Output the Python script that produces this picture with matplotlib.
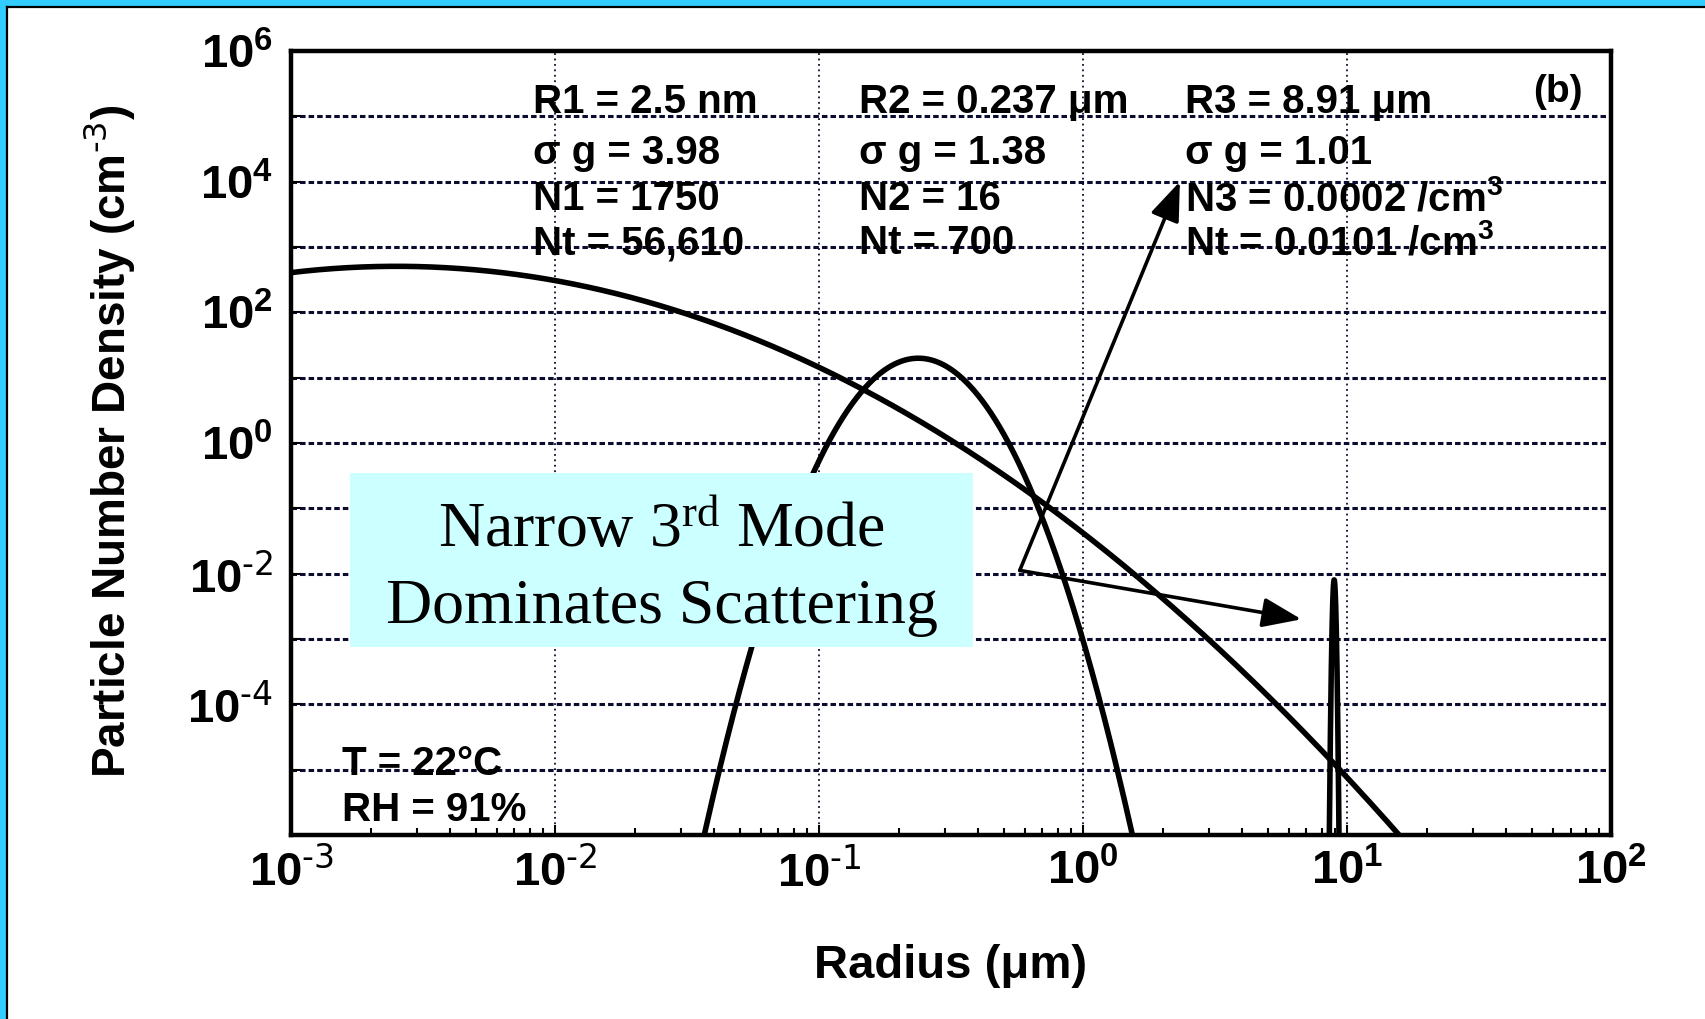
import numpy as np
import matplotlib
matplotlib.use("Agg")
import matplotlib.pyplot as plt
from matplotlib.patches import Rectangle
from matplotlib.lines import Line2D

plt.rcParams['font.family'] = ['Liberation Sans', 'DejaVu Sans']
plt.rcParams['mathtext.default'] = 'regular'

# Lognormal mode parameters (radius in um, geometric std dev, number in cm^-3)
mode_names = ["R1", "R2", "R3"]
mode_radius = [0.0025, 0.237, 8.91]
mode_sigma = [3.98, 1.38, 1.01]
mode_number = [1750, 16, 0.0002]

# Annotation text blocks for each mode
mode_text = [
    ["R1 = 2.5 nm", "\u03c3 g = 3.98", "N1 = 1750", "Nt = 56,610"],
    ["R2 = 0.237 \u03bcm", "\u03c3 g = 1.38", "N2 = 16", "Nt = 700"],
    ["R3 = 8.91 \u03bcm", "\u03c3 g = 1.01", r"N3 = 0.0002 /cm$^{3}$", r"Nt = 0.0101 /cm$^{3}$"],
]

x_ticks = [1e-3, 1e-2, 1e-1, 1e0, 1e1, 1e2]
x_tick_labels = [r"$10^{\text{-3}}$", r"$10^{\text{-2}}$", r"$10^{\text{-1}}$",
                 r"$10^{0}$", r"$10^{1}$", r"$10^{2}$"]
y_ticks = [1e-4, 1e-2, 1e0, 1e2, 1e4, 1e6]
y_tick_labels = [r"$10^{\text{-4}}$", r"$10^{\text{-2}}$", r"$10^{0}$",
                 r"$10^{2}$", r"$10^{4}$", r"$10^{6}$"]
y_minor = [1e-5, 1e-3, 1e-1, 1e1, 1e3, 1e5]

# Arrow from the callout to the narrow third mode
arrow_origin = (0.574, 0.0112)
arrow_targets = [(2.32, 1.0e4), (6.70, 0.0020)]

fig = plt.figure(figsize=(17.05, 10.19), dpi=100)
fig.patch.set_facecolor("white")

# Slide frame: cyan band with a thin dark edge along the top and left
cyan = "#33CCFF"
fig.patches.append(Rectangle((0, 1 - 6 / 1019), 1, 6 / 1019, transform=fig.transFigure,
                             facecolor=cyan, edgecolor="none", zorder=0))
fig.patches.append(Rectangle((0, 0), 6 / 1705, 1, transform=fig.transFigure,
                             facecolor=cyan, edgecolor="none", zorder=0))
fig.lines.append(Line2D([7 / 1705, 1], [1 - 6.5 / 1019, 1 - 6.5 / 1019], transform=fig.transFigure,
                        color="black", lw=1.6))
fig.lines.append(Line2D([7 / 1705, 7 / 1705], [0, 1 - 6.5 / 1019], transform=fig.transFigure,
                        color="black", lw=1.6))

ax = fig.add_axes([0.1709, 0.1806, 0.7742, 0.7694])
ax.set_xscale("log")
ax.set_yscale("log")
ax.set_xlim(1e-3, 1e2)
ax.set_ylim(1e-6, 1e6)

# Grid: dashed horizontal at each decade, dotted vertical at each decade
grid_col = "#0c0c30"
for e in range(-5, 6):
    ax.axhline(10.0 ** e, color=grid_col, lw=2.2, ls=(0, (1.8, 1.0)), zorder=1)
for e in range(-2, 2):
    ax.axvline(10.0 ** e, color=grid_col, lw=1.3, ls=(0, (1.0, 2.0)), zorder=1)

# Size distribution curves dN/dlnr for each lognormal mode
r = np.unique(np.concatenate([np.logspace(-3, 2, 6000), np.logspace(np.log10(8.0), np.log10(10.0), 4000)]))
for R, s, N in zip(mode_radius, mode_sigma, mode_number):
    ls_ = np.log(s)
    dn = N / (np.sqrt(2 * np.pi) * ls_) * np.exp(-(np.log(r / R)) ** 2 / (2 * ls_ ** 2))
    dn = np.where(dn > 1e-8, dn, np.nan)
    ax.plot(r, dn, color="black", lw=4.0, zorder=3, solid_capstyle="butt")

for sp in ax.spines.values():
    sp.set_linewidth(3.2)
    sp.set_zorder(4)

ax.set_xticks(x_ticks)
ax.set_xticklabels(x_tick_labels)
ax.set_yticks(y_ticks)
ax.set_yticklabels(y_tick_labels)
ax.set_yticks(y_minor, minor=True)
ax.set_yticklabels([], minor=True)
ax.tick_params(axis="both", which="both", direction="in", top=False, right=False)
ax.tick_params(axis="x", which="major", length=7, width=1.5, labelsize=34, pad=10)
ax.tick_params(axis="x", which="minor", length=5, width=1.5)
ax.tick_params(axis="y", which="both", length=7, width=1.5, labelsize=34, pad=13)
for lab in ax.get_xticklabels() + ax.get_yticklabels():
    lab.set_fontweight("bold")

ax.set_xlabel("Radius (\u03bcm)", fontsize=34, fontweight="bold")
ax.xaxis.set_label_coords(0.4997, -0.1666)
ax.xaxis.label.set_verticalalignment("center")
ax.set_ylabel(r"Particle Number Density (cm$^{\text{-3}}$)", fontsize=33, fontweight="bold")
ax.yaxis.set_label_coords(-0.138, 0.502)
ax.yaxis.label.set_verticalalignment("center")

# Mode parameter text columns
col_x = [0.183, 0.430, 0.677]
row_y = [0.935, 0.870, 0.811, 0.755]
for cx, lines in zip(col_x, mode_text):
    for ry, t in zip(row_y, lines):
        ax.text(cx, ry, t, transform=ax.transAxes, fontsize=29, fontweight="bold",
                ha="left", va="center", zorder=5)
ax.text(0.941, 0.948, "(b)", transform=ax.transAxes, fontsize=28, fontweight="bold",
        ha="left", va="center", zorder=5)
ax.text(0.0387, 0.090, "T = 22\u00b0C", transform=ax.transAxes, fontsize=29, fontweight="bold",
        ha="left", va="center", zorder=5)
ax.text(0.0387, 0.032, "RH = 91%", transform=ax.transAxes, fontsize=29, fontweight="bold",
        ha="left", va="center", zorder=5)

# Arrows pointing at the third mode
for tgt in arrow_targets:
    ax.annotate("", xy=tgt, xytext=arrow_origin, xycoords="data", textcoords="data",
                arrowprops=dict(arrowstyle="-|>,head_length=1.0,head_width=0.38", mutation_scale=24,
                                color="black", lw=2.6, shrinkA=0, shrinkB=0), zorder=6)

# Callout box
box = Rectangle((0.2053, 0.3651), 0.5707 - 0.2053, 0.5358 - 0.3651, transform=fig.transFigure,
                facecolor="#CCFFFF", edgecolor="none", zorder=7, clip_on=False)
ax.add_patch(box)
ax.text(0.388, 0.4784, r"Narrow 3$^{rd}$ Mode", transform=fig.transFigure, family="Liberation Serif",
        fontsize=46, ha="center", va="center", zorder=8)
ax.text(0.388, 0.4038, "Dominates Scattering", transform=fig.transFigure, family="Liberation Serif",
        fontsize=46, ha="center", va="center", zorder=8)

fig.savefig("out.png", dpi=100, facecolor="white")
